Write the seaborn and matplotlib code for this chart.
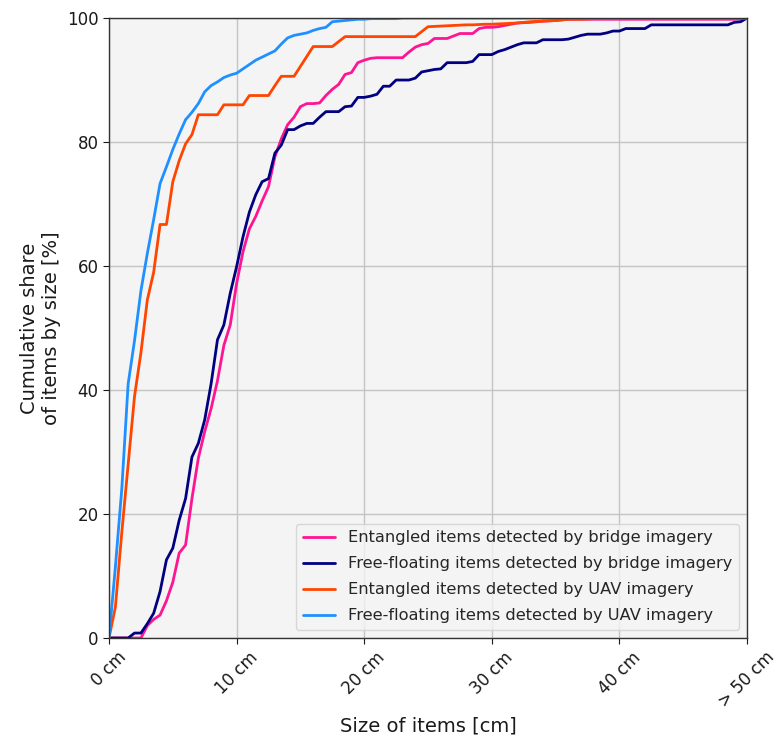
import numpy as np
import pandas as pd
import matplotlib
matplotlib.use("Agg")
import matplotlib.pyplot as plt
import seaborn as sns

# Size in cm (0.5 cm steps); last point stands for "> 50 cm"
size_cm = [i * 0.5 for i in range(101)]

entangled_bridge = [
    0, 0, 0, 0, 0, 0, 2.0, 3.0, 3.7, 6.0,
    9.0, 13.7, 15.0, 22.5, 29.0, 33.3, 37.0, 41.5, 47.2, 50.5,
    57.2, 62.3, 66.0, 68.0, 70.5, 72.8, 77.6, 80.5, 82.8, 84.0,
    85.7, 86.2, 86.2, 86.3, 87.5, 88.5, 89.3, 90.9, 91.2, 92.8,
    93.2, 93.5, 93.6, 93.6, 93.6, 93.6, 93.6, 94.5, 95.3, 95.7,
    95.9, 96.7, 96.7, 96.7, 97.1, 97.5, 97.5, 97.5, 98.3, 98.5,
    98.5, 98.6, 98.8, 99.0, 99.2, 99.25, 99.3, 99.4, 99.5, 99.55,
    99.6, 99.7, 99.8, 99.8, 99.8, 99.8, 99.8, 99.8, 99.8, 99.8,
    99.8, 99.8, 99.8, 99.8, 99.8, 99.8, 99.8, 99.8, 99.8, 99.8,
    99.8, 99.8, 99.8, 99.8, 99.8, 99.8, 99.8, 99.8, 99.8, 99.85,
    100,
]

freefloating_bridge = [
    0, 0, 0, 0, 0.8, 0.8, 2.3, 4.0, 7.5, 12.6,
    14.5, 19.0, 22.5, 29.2, 31.4, 35.2, 41.0, 48.1, 50.5, 55.6,
    59.9, 64.7, 68.7, 71.5, 73.6, 74.1, 78.2, 79.5, 82.0, 82.0,
    82.6, 83.0, 83.0, 84.0, 84.9, 84.9, 84.9, 85.7, 85.8, 87.2,
    87.2, 87.4, 87.7, 89.0, 89.0, 90.0, 90.0, 90.0, 90.3, 91.3,
    91.5, 91.7, 91.8, 92.8, 92.8, 92.8, 92.8, 93.0, 94.1, 94.1,
    94.1, 94.6, 94.9, 95.3, 95.7, 96.0, 96.0, 96.0, 96.5, 96.5,
    96.5, 96.5, 96.6, 96.9, 97.2, 97.4, 97.4, 97.4, 97.6, 97.9,
    97.9, 98.3, 98.3, 98.3, 98.3, 98.9, 98.9, 98.9, 98.9, 98.9,
    98.9, 98.9, 98.9, 98.9, 98.9, 98.9, 98.9, 98.9, 99.3, 99.4,
    100,
]

entangled_uav = [
    0, 5.0, 17.0, 28.0, 39.0, 46.0, 54.5, 59.0, 66.7, 66.7,
    73.6, 77.0, 79.7, 81.2, 84.4, 84.4, 84.4, 84.4, 86.0, 86.0,
    86.0, 86.0, 87.5, 87.5, 87.5, 87.5, 89.1, 90.6, 90.6, 90.6,
    92.2, 93.8, 95.4, 95.4, 95.4, 95.4, 96.2, 97.0, 97.0, 97.0,
    97.0, 97.0, 97.0, 97.0, 97.0, 97.0, 97.0, 97.0, 97.0, 97.8,
    98.6, 98.65, 98.7, 98.75, 98.8, 98.85, 98.9, 98.9, 98.95, 99.0,
    99.0, 99.05, 99.1, 99.15, 99.2, 99.3, 99.4, 99.45, 99.5, 99.55,
    99.6, 99.7, 99.8, 99.8, 99.8, 99.85, 99.9, 99.9, 99.95, 99.95,
    100, 100, 100, 100, 100, 100, 100, 100, 100, 100,
    100, 100, 100, 100, 100, 100, 100, 100, 100, 100,
    100,
]

freefloating_uav = [
    0, 11.5, 24.0, 41.0, 48.0, 56.0, 62.0, 67.5, 73.3, 76.0,
    78.8, 81.3, 83.6, 84.8, 86.2, 88.1, 89.1, 89.7, 90.4, 90.8,
    91.1, 91.8, 92.5, 93.2, 93.7, 94.2, 94.7, 95.8, 96.8, 97.2,
    97.4, 97.6, 98.0, 98.3, 98.5, 99.4, 99.5, 99.6, 99.7, 99.8,
    99.8, 99.9, 99.9, 99.9, 99.9, 99.9, 100, 100, 100, 100,
    100, 100, 100, 100, 100, 100, 100, 100, 100, 100,
    100, 100, 100, 100, 100, 100, 100, 100, 100, 100,
    100, 100, 100, 100, 100, 100, 100, 100, 100, 100,
    100, 100, 100, 100, 100, 100, 100, 100, 100, 100,
    100, 100, 100, 100, 100, 100, 100, 100, 100, 100,
    100,
]

series_names = [
    "Entangled items detected by bridge imagery",
    "Free-floating items detected by bridge imagery",
    "Entangled items detected by UAV imagery",
    "Free-floating items detected by UAV imagery",
]
series_colors = ["deeppink", "navy", "orangered", "dodgerblue"]

x_ticks = [0, 10, 20, 30, 40, 50]
x_tick_labels = ["0 cm", "10 cm", "20 cm", "30 cm", "40 cm", "> 50 cm"]
y_ticks = [0, 20, 40, 60, 80, 100]

frames = []
for name, vals in zip(series_names,
                      [entangled_bridge, freefloating_bridge, entangled_uav, freefloating_uav]):
    frames.append(pd.DataFrame({"size": size_cm, "share": vals, "series": name}))
df = pd.concat(frames, ignore_index=True)

sns.set_style("whitegrid", {
    "axes.facecolor": "#f4f4f4",
    "axes.edgecolor": "#262626",
    "grid.color": "#c4c4c4",
    "xtick.bottom": True,
    "ytick.left": True,
})
plt.rcParams["font.family"] = ["DejaVu Sans"]
plt.rcParams["xtick.major.size"] = 4
plt.rcParams["ytick.major.size"] = 4
plt.rcParams["xtick.color"] = "#1a1a1a"
plt.rcParams["ytick.color"] = "#1a1a1a"

fig = plt.figure(figsize=(7.77, 7.45), dpi=100)
ax = fig.add_axes([0.1403, 0.1436, 0.8211, 0.8322])

sns.lineplot(data=df, x="size", y="share", hue="series", hue_order=series_names,
             palette=dict(zip(series_names, series_colors)), linewidth=2,
             ax=ax, errorbar=None, sort=False)

ax.set_xlim(0, 50)
ax.set_ylim(0, 100)
ax.set_xticks(x_ticks)
ax.set_xticklabels(x_tick_labels, rotation=45, fontsize=12)
ax.set_yticks(y_ticks)
ax.tick_params(axis="y", labelsize=12)
ax.grid(True, color="#c4c4c4", linewidth=1)
ax.set_axisbelow(True)
for s in ax.spines.values():
    s.set_color("#333333")
    s.set_linewidth(1.0)

ax.set_xlabel("Size of items [cm]", fontsize=14, color="#1a1a1a")
ax.set_ylabel("Cumulative share\nof items by size [%]", fontsize=14, color="#1a1a1a")

leg = ax.legend(loc="lower right", fontsize=11.7, frameon=True, labelspacing=0.68)
leg.get_frame().set_facecolor("#f4f4f4")
leg.get_frame().set_edgecolor("#d0d0d0")
leg.set_title(None)

fig.savefig("out.png", dpi=100)
